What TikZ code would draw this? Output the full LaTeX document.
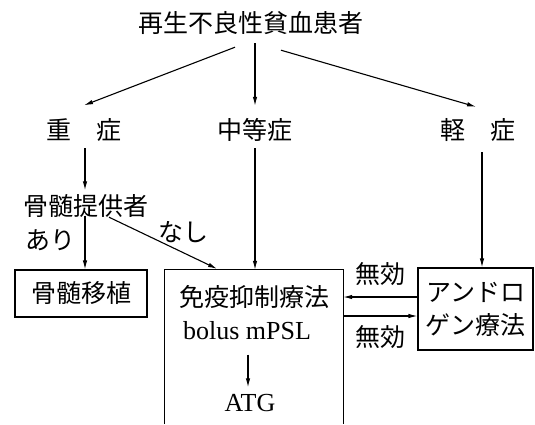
\documentclass[tikz,border=0pt]{standalone}
\usepackage{fontspec}
\setmainfont{Liberation Serif}
\newfontfamily\cjk{Noto Sans CJK JP}
\usetikzlibrary{arrows.meta,calc}
\begin{document}
\begin{tikzpicture}[x=1pt,y=-1pt,
  jp/.style={font=\cjk\fontsize{25}{33}\selectfont, inner sep=0pt, text height=22pt, text depth=3pt},
  lat/.style={font=\fontsize{26}{30}\selectfont, inner sep=0pt, text height=17pt, text depth=0pt},
  arr/.style={-{Latex[length=9pt,width=4.5pt]}, line width=1.1pt},
  boxed/.style={draw, line width=1.1pt, inner sep=0pt}]
\useasboundingbox (0,0) rectangle (535,424);
% text nodes
\node[jp] (title) at (251,23) {再生不良性貧血患者};
\node[jp] (jusho) at (84,130) {重　症};
\node[jp] (chuto) at (255,130) {中等症};
\node[jp] (kei) at (478,130) {軽　症};
\node[jp] (donor) at (86,206) {骨髄提供者};
\node[jp] (ari) at (50,240) {あり};
\node[jp] (nashi) at (183,232) {なし};
% boxes
\node[boxed, jp, minimum width=132pt, minimum height=47pt, text height=, text depth=] (lbox) at (81,293.5) {骨髄移植};
\node[inner sep=0pt, minimum width=178pt, minimum height=154pt] (mid) at (254,347) {};
\draw[line width=1.1pt] (mid.south west) -- (mid.north west) -- (mid.north east) -- (mid.south east);
\node[jp] (mt1) at (254,297) {免疫抑制療法};
\node[lat] (mt2) at (247,331) {bolus mPSL};
\node[lat] (atg) at (250,403) {ATG};
\node[boxed, minimum width=115pt, minimum height=82pt, font=\cjk\fontsize{25}{33}\selectfont, align=center] (rbox) at (475.5,309) {アンドロ\\ゲン療法};
\node[jp] (muko1) at (380,274) {無効};
\node[jp] (muko2) at (380,337) {無効};
% connectors
\draw[arr] ($(title.south)+(-16,11.5)$) -- ($(jusho.north)+(0,-12)$);
\draw[arr] ($(title.south)+(4,7.5)$) -- ($(chuto.north)+(0,-11.5)$);
\draw[arr] ($(title.south)+(30,14.5)$) -- ($(kei.north)+(-2,-10.5)$);
\draw[arr] ($(jusho.south)+(1,5.5)$) -- ($(donor.north)+(-1,-3)$);
\draw[arr] ($(donor.south)+(-1,-3)$) -- ($(lbox.north)+(4,0)$);
\draw[arr] ($(donor.south)+(23,-1.5)$) -- ($(mid.north)+(-37,-1)$);
\draw[arr] ($(chuto.south)+(0,5.5)$) -- ($(mid.north)+(1,0)$);
\draw[arr] ($(kei.south)+(4,9.5)$) -- ($(rbox.north)+(6.5,0)$);
\draw[arr] ($(rbox.west)+(0,-12)$) -- ($(mid.east)+(0,-50)$);
\draw[arr] ($(mid.east)+(0,-31)$) -- ($(rbox.west)+(0,7)$);
\draw[arr] ($(mt2.south)+(1,15)$) -- ($(atg.north)+(-2,-7)$);
\end{tikzpicture}
\end{document}
